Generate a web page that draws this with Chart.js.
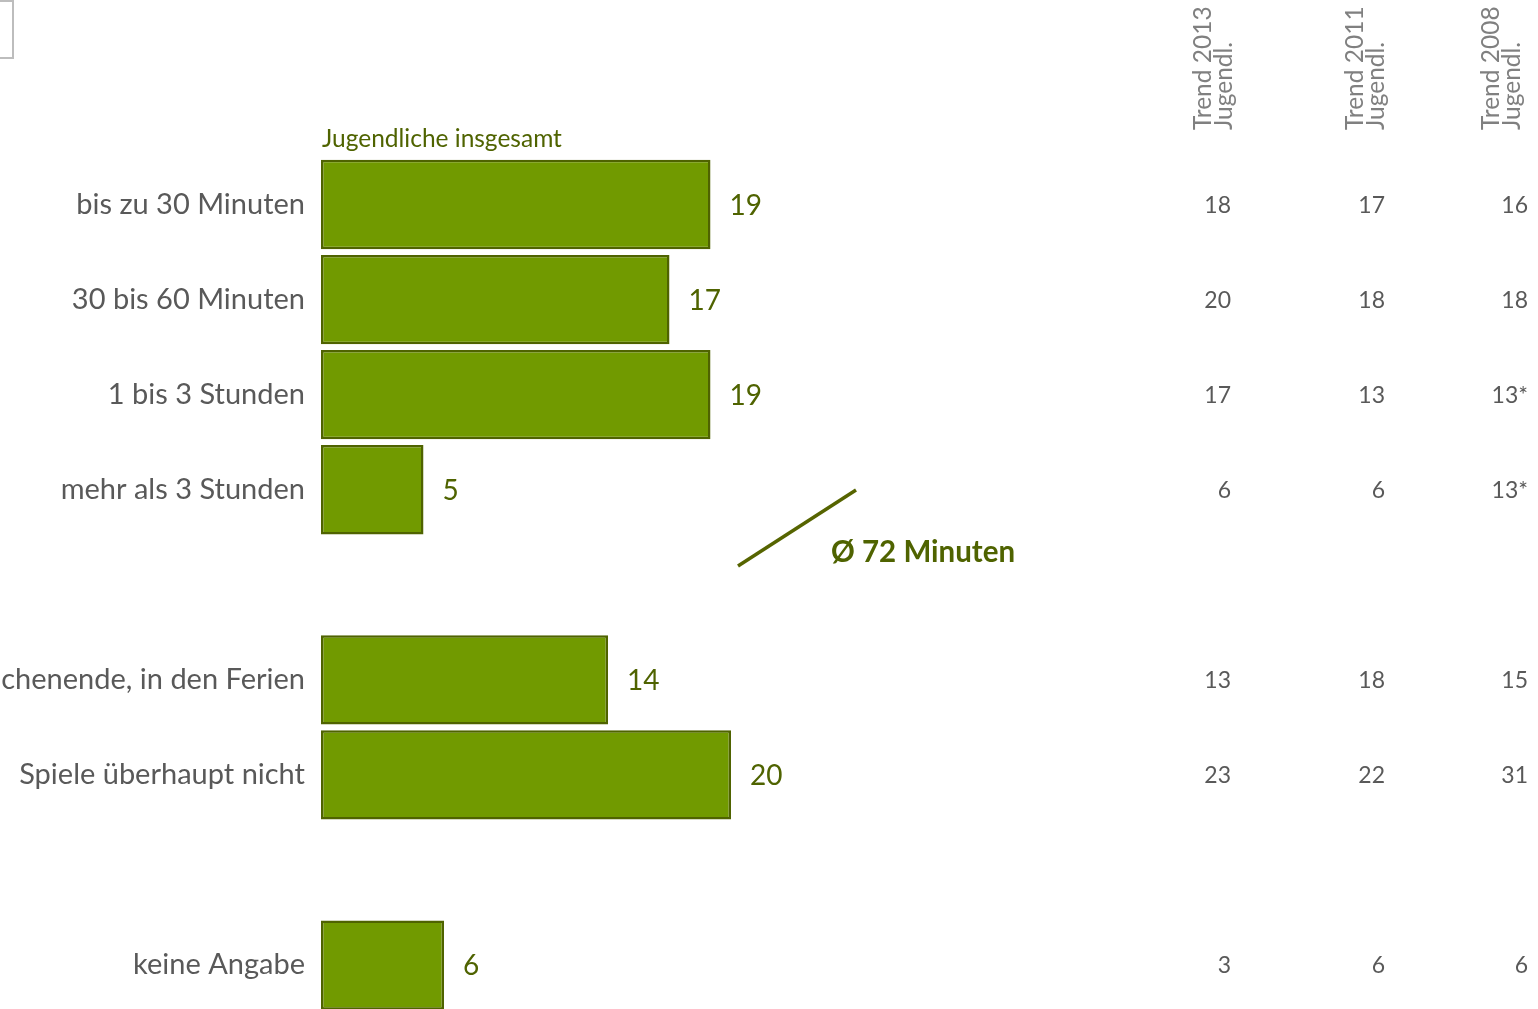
<!DOCTYPE html>
<html>
<head>
<meta charset="utf-8">
<script src="https://cdn.jsdelivr.net/npm/chart.js@4.4.0/dist/chart.umd.min.js"></script>
<style>
  html, body { margin: 0; padding: 0; background: #fff; overflow: hidden; }
  #wrap { position: relative; width: 1538px; height: 1009px; overflow: hidden; }
</style>
</head>
<body>
<div id="wrap"><canvas id="mycanvas" width="1538" height="1046"></canvas></div>
<script>
// categories (empty slots are gaps between groups)
var categories = ['bis zu 30 Minuten', '30 bis 60 Minuten', '1 bis 3 Stunden', 'mehr als 3 Stunden', '',
                  'nur am Wochenende, in den Ferien', 'Spiele überhaupt nicht', '', 'keine Angabe'];
var jugendlicheInsgesamt = [19, 17, 19, 5, null, 14, 20, null, 6];
var trendHeaders = [['Trend 2013', 'Jugendl.'], ['Trend 2011', 'Jugendl.'], ['Trend 2008', 'Jugendl.']];
var trend2013 = ['18', '20', '17', '6', '', '13', '23', '', '3'];
var trend2011 = ['17', '18', '13', '6', '', '18', '22', '', '6'];
var trend2008 = ['16', '18', '13*', '13*', '', '15', '31', '', '6'];
var averageLabel = 'Ø 72 Minuten';
var seriesLabel = 'Jugendliche insgesamt';

var FONT = 'Lato, "Open Sans", sans-serif';
var barGreen = '#719a00';
var darkGreen = '#4f6300';

var extras = {
  id: 'extras',
  afterDatasetsDraw: function(chart) {
    var ctx = chart.ctx;
    var y = chart.scales.y;
    var x = chart.scales.x;
    ctx.save();

    // value labels right of bars
    ctx.fillStyle = darkGreen;
    ctx.font = '28px ' + FONT;
    ctx.textAlign = 'left';
    ctx.textBaseline = 'middle';
    jugendlicheInsgesamt.forEach(function(v, i) {
      if (v === null) return;
      ctx.fillText(String(v), x.getPixelForValue(v) + 19, y.getPixelForValue(i) + 1);
    });

    // series label above first bar
    ctx.font = '24.5px ' + FONT;
    ctx.textBaseline = 'alphabetic';
    ctx.fillText(seriesLabel, x.getPixelForValue(0) + 1, 147);

    // trend columns
    var cols = [trend2013, trend2011, trend2008];
    var rightEdges = [1231, 1385, 1528];
    ctx.fillStyle = '#595959';
    ctx.font = '23px ' + FONT;
    ctx.textAlign = 'right';
    ctx.textBaseline = 'middle';
    cols.forEach(function(col, c) {
      col.forEach(function(t, i) {
        if (!t) return;
        ctx.fillText(t, rightEdges[c], y.getPixelForValue(i) + 1);
      });
    });

    // rotated headers
    var headX = [1213, 1365, 1501];
    ctx.fillStyle = '#808080';
    ctx.font = '24.5px ' + FONT;
    ctx.textAlign = 'left';
    ctx.textBaseline = 'middle';
    trendHeaders.forEach(function(h, c) {
      ctx.save();
      ctx.translate(headX[c], 130);
      ctx.rotate(-Math.PI / 2);
      ctx.fillText(h[0], 0, -10);
      ctx.fillText(h[1], 0, 11);
      ctx.restore();
    });

    // average marker
    ctx.strokeStyle = '#566400';
    ctx.lineWidth = 3.5;
    ctx.beginPath();
    ctx.moveTo(738, 566);
    ctx.lineTo(856, 490);
    ctx.stroke();
    ctx.fillStyle = darkGreen;
    ctx.font = 'bold 29.5px ' + FONT;
    ctx.textAlign = 'left';
    ctx.textBaseline = 'middle';
    ctx.fillText(averageLabel, 831, 552);

    // small box top left
    ctx.strokeStyle = '#bdbdbd';
    ctx.lineWidth = 2;
    ctx.strokeRect(-5, 1, 18, 57);
    ctx.restore();
  }
};

var chartdata = {
  labels: categories,
  datasets: [{
    label: seriesLabel,
    data: jugendlicheInsgesamt,
    backgroundColor: barGreen,
    borderColor: darkGreen,
    borderWidth: 2.5,
    borderSkipped: false,
    barPercentage: 0.94,
    categoryPercentage: 1.0
  }]
};

var ctx = document.getElementById('mycanvas');
var barGraph = new Chart(ctx, {
  type: 'bar',
  data: chartdata,
  options: {
    indexAxis: 'y',
    responsive: false,
    animation: false,
    layout: { padding: { top: 157, bottom: 0, right: 397, left: 0 } },
    plugins: { legend: { display: false }, tooltip: { enabled: false } },
    scales: {
      x: { display: false, min: 0, max: 40 },
      y: {
        grid: { display: false, drawTicks: false },
        border: { display: false },
        ticks: {
          autoSkip: false,
          color: '#595959',
          font: { family: FONT, size: 29 },
          padding: 16
        },
        afterFit: function(scale) { scale.width = 321; }
      }
    }
  },
  plugins: [extras]
});
</script>
</body>
</html>
